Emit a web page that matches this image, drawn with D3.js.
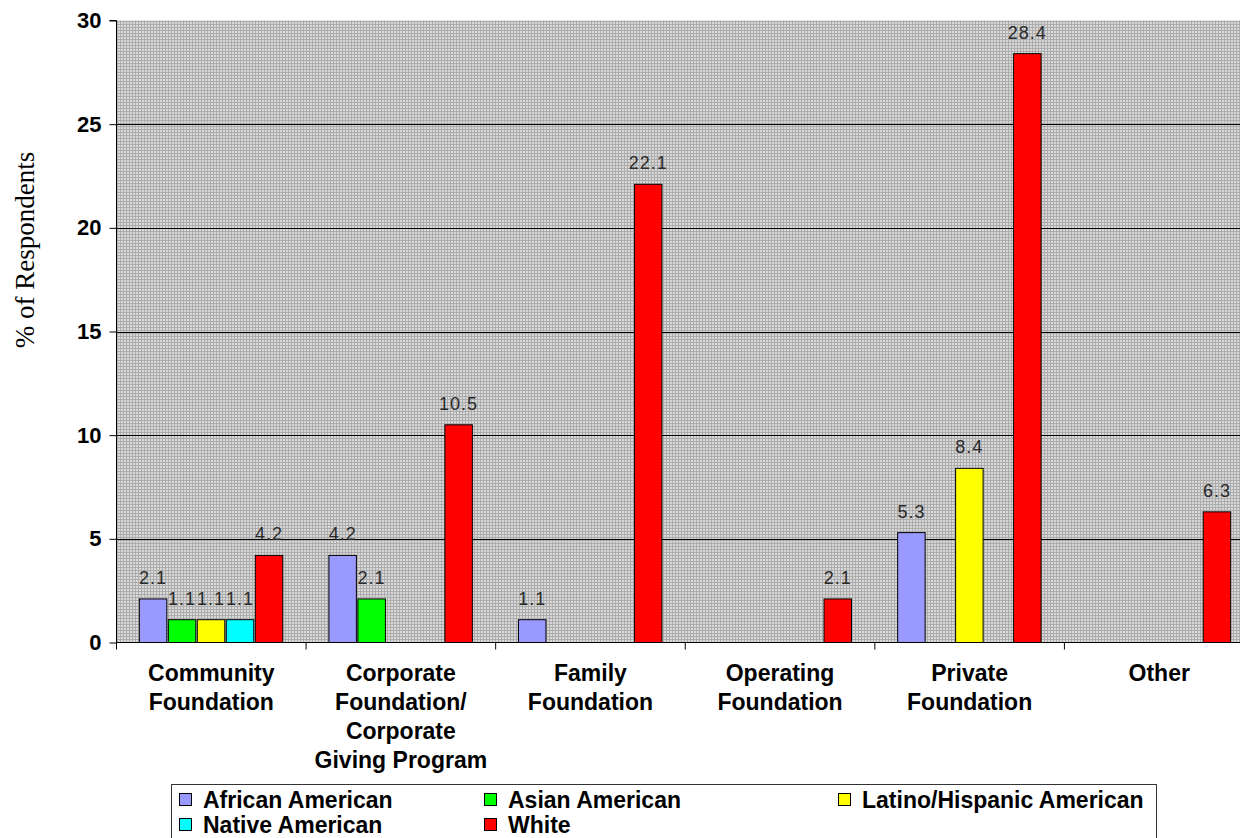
<!DOCTYPE html>
<html>
<head>
<meta charset="utf-8">
<script src="https://cdn.jsdelivr.net/npm/d3@7"></script>
<style>
  html, body { margin: 0; padding: 0; background: #fff; }
  svg { display: block; }
</style>
</head>
<body>
<svg id="chart" width="1240" height="838"></svg>
<script>
// Foundation type categories (line breaks as shown under the axis)
const categories = [
  ["Community", "Foundation"],
  ["Corporate", "Foundation/", "Corporate", "Giving Program"],
  ["Family", "Foundation"],
  ["Operating", "Foundation"],
  ["Private", "Foundation"],
  ["Other"]
];
const seriesNames = ["African American", "Asian American", "Latino/Hispanic American", "Native American", "White"];
const seriesColors = ["#9999FF", "#00FF00", "#FFFF00", "#00FFFF", "#FF0000"];

// % of respondents per series, one value per category (null = no bar)
const africanAmerican = [2.1, 4.2, 1.1, null, 5.3, null];
const asianAmerican   = [1.1, 2.1, null, null, null, null];
const latinoHispanic  = [1.1, null, null, null, 8.4, null];
const nativeAmerican  = [1.1, null, null, null, null, null];
const white           = [4.2, 10.5, 22.1, 2.1, 28.4, 6.3];

const yTicks = [0, 5, 10, 15, 20, 25, 30];

const seriesValues = [africanAmerican, asianAmerican, latinoHispanic, nativeAmerican, white];

const svg = d3.select("#chart");
const plotL = 116.5, plotR = 1254, plotT = 20.5, plotB = 642.5;

// Hatched grey plot background
const defs = svg.append("defs");
const pat = defs.append("pattern").attr("id", "bgDots")
  .attr("width", 3).attr("height", 3).attr("patternUnits", "userSpaceOnUse");
pat.append("rect").attr("width", 3).attr("height", 3).attr("fill", "#acacac");
pat.append("rect").attr("x", 1).attr("y", 1).attr("width", 2).attr("height", 2).attr("fill", "#d8d8d8");

const x0 = d3.scaleBand().domain(d3.range(categories.length)).range([plotL, plotR]);
const x1 = d3.scaleBand().domain(d3.range(seriesNames.length))
  .range([0, x0.bandwidth()]).paddingInner(0).paddingOuter(0.77);
const y = d3.scaleLinear().domain([0, 30]).range([plotB, plotT]);

svg.append("rect")
  .attr("x", plotL).attr("y", plotT)
  .attr("width", plotR - plotL).attr("height", plotB - plotT)
  .attr("fill", "url(#bgDots)");

// Horizontal gridlines
svg.append("g").selectAll("line")
  .data(yTicks.filter(t => t > 0 && t < 30))
  .join("line")
  .attr("x1", plotL).attr("x2", plotR)
  .attr("y1", d => Math.round(y(d)) + 0.5).attr("y2", d => Math.round(y(d)) + 0.5)
  .attr("stroke", "#000").attr("stroke-width", 1);

// Bars
const bars = [];
seriesValues.forEach((vals, si) => {
  vals.forEach((v, ci) => {
    if (v != null && v > 0) bars.push({ si, ci, v });
  });
});

const barW = x1.bandwidth() - 1.5;
svg.append("g").selectAll("rect")
  .data(bars)
  .join("rect")
  .attr("x", d => x0(d.ci) + x1(d.si) + 0.5)
  .attr("y", d => y(d.v))
  .attr("width", barW)
  .attr("height", d => y(0) - y(d.v))
  .attr("fill", d => seriesColors[d.si])
  .attr("stroke", "#000").attr("stroke-width", 1);

// Value labels above bars
svg.append("g").selectAll("text")
  .data(bars)
  .join("text")
  .attr("x", d => x0(d.ci) + x1(d.si) + 0.5 + barW / 2)
  .attr("y", d => y(d.v) - 15)
  .attr("text-anchor", "middle")
  .attr("font-family", "Arial, 'Liberation Sans', sans-serif")
  .attr("font-size", 18)
  .attr("letter-spacing", 1)
  .attr("fill", "#2a2a2a")
  .text(d => d.v.toFixed(1));

// Y axis
const yAxis = d3.axisLeft(y).tickValues(yTicks).tickSize(7).tickPadding(8).tickFormat(d3.format("d"));
const gy = svg.append("g").attr("transform", `translate(${plotL},0)`).call(yAxis);
gy.select(".domain").attr("stroke", "#000").attr("d", `M-7,${plotT}H0V${plotB}`);
gy.selectAll(".tick line").attr("stroke", "#000");
gy.selectAll(".tick text")
  .attr("font-family", "Arial, 'Liberation Sans', sans-serif")
  .attr("font-size", 22).attr("font-weight", "bold").attr("fill", "#000");

// X axis baseline and category separators
const gx = svg.append("g");
gx.append("line").attr("x1", plotL).attr("x2", plotR).attr("y1", plotB).attr("y2", plotB)
  .attr("stroke", "#000");
gx.selectAll("line.sep")
  .data(d3.range(categories.length + 1))
  .join("line").attr("class", "sep")
  .attr("x1", d => (d < categories.length ? x0(d) : plotR))
  .attr("x2", d => (d < categories.length ? x0(d) : plotR))
  .attr("y1", plotB).attr("y2", plotB + 7)
  .attr("stroke", "#000");

// Category labels
const catText = gx.selectAll("text.cat")
  .data(categories)
  .join("text").attr("class", "cat")
  .attr("text-anchor", "middle")
  .attr("font-family", "Arial, 'Liberation Sans', sans-serif")
  .attr("font-size", 23).attr("font-weight", "bold").attr("fill", "#000");
catText.each(function (lines, i) {
  const t = d3.select(this);
  lines.forEach((ln, j) => {
    t.append("tspan")
      .attr("x", x0(i) + x0.bandwidth() / 2)
      .attr("y", 681 + j * 29)
      .text(ln);
  });
});

// Y axis title
svg.append("text")
  .attr("transform", "translate(34,250) rotate(-90)")
  .attr("text-anchor", "middle")
  .attr("font-family", "'Times New Roman', 'Liberation Serif', serif")
  .attr("font-size", 27).attr("fill", "#000")
  .text("% of Respondents");

// Legend
const lg = svg.append("g");
lg.append("rect")
  .attr("x", 171.5).attr("y", 784.5).attr("width", 985).attr("height", 70)
  .attr("fill", "#fff").attr("stroke", "#333").attr("stroke-width", 1);
const colX = [179, 484, 838];
const rowY = [800, 825];
const items = seriesNames.map((name, i) => ({ name, color: seriesColors[i], col: i % 3, row: Math.floor(i / 3) }));
const li = lg.selectAll("g.item").data(items).join("g").attr("class", "item")
  .attr("transform", d => `translate(${colX[d.col]},${rowY[d.row]})`);
li.append("rect").attr("x", 0.5).attr("y", -6.5).attr("width", 12).attr("height", 12)
  .attr("fill", d => d.color).attr("stroke", "#000");
li.append("text").attr("x", 24).attr("y", 8)
  .attr("font-family", "Arial, 'Liberation Sans', sans-serif")
  .attr("font-size", 23).attr("font-weight", "bold").attr("fill", "#000")
  .text(d => d.name);
</script>
</body>
</html>
